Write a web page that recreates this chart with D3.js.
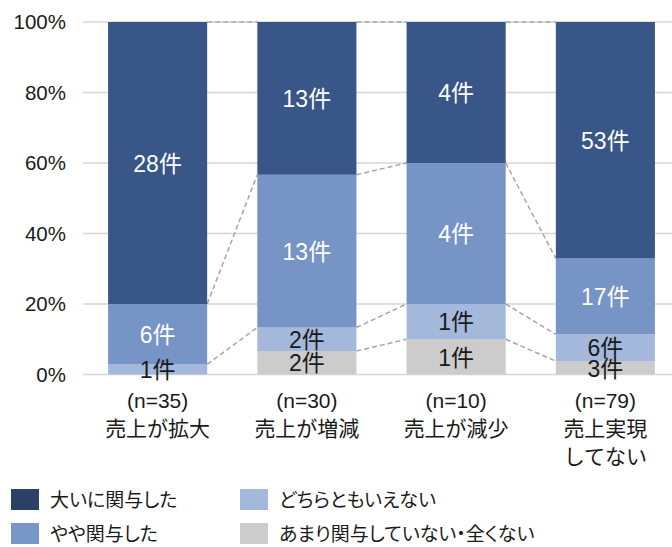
<!DOCTYPE html>
<html lang="ja">
<head>
<meta charset="utf-8">
<script src="https://cdn.jsdelivr.net/npm/d3@7"></script>
<style>
  html, body { margin: 0; padding: 0; background: #fff; }
  svg { display: block; font-family: "Liberation Sans", "Noto Sans CJK JP", sans-serif; }
  .legend text { font-feature-settings: "palt"; }
</style>
</head>
<body>
<svg id="chart" width="672" height="547"></svg>
<script>
// 売上への関与度（件数）
const categories = ["売上が拡大", "売上が増減", "売上が減少", "売上実現してない"];
const categoryLines = [
  ["売上が拡大"],
  ["売上が増減"],
  ["売上が減少"],
  ["売上実現", "してない"]
];
const seriesNames = ["あまり関与していない・全くない", "どちらともいえない", "やや関与した", "大いに関与した"];
const notInvolved  = [0, 2, 1, 3];
const neutral      = [1, 2, 1, 6];
const somewhat     = [6, 13, 4, 17];
const veryInvolved = [28, 13, 4, 53];
const yTicks = [0, 0.2, 0.4, 0.6, 0.8, 1.0];

// bottom-to-top stacking order
const seriesValues = [notInvolved, neutral, somewhat, veryInvolved];
const barColors = ["#cccccc", "#a4b8db", "#7694c6", "#385687"];
const labelColors = ["#1a1a1a", "#1a1a1a", "#ffffff", "#ffffff"];
const legendSwatch = ["#cccccc", "#a4b8db", "#7896c8", "#2b4066"];

const svg = d3.select("#chart");

const totals = categories.map((c, i) => d3.sum(seriesValues, s => s[i]));
const rows = categories.map((c, i) => {
  const r = { cat: c };
  seriesNames.forEach((name, k) => { r[name] = seriesValues[k][i] / totals[i]; });
  return r;
});
const stacked = d3.stack().keys(seriesNames)(rows);

const x = d3.scaleBand().domain(categories).range([83, 680])
  .paddingInner(0.336).paddingOuter(0.168);
const y = d3.scaleLinear().domain([0, 1]).range([374.5, 22]);

// gridlines
svg.append("g").selectAll("line").data(yTicks).join("line")
  .attr("x1", 83).attr("x2", 672)
  .attr("y1", d => y(d)).attr("y2", d => y(d))
  .attr("stroke", "#d6d6d6").attr("stroke-width", 1.5);

// y axis labels
const yAxis = d3.axisLeft(y).tickValues(yTicks).tickFormat(d3.format(".0%")).tickSize(0).tickPadding(0);
const yg = svg.append("g").attr("transform", "translate(66,0)").call(yAxis);
yg.select(".domain").remove();
yg.selectAll("text")
  .attr("font-family", "'Liberation Sans', sans-serif")
  .attr("font-size", 20.5).attr("fill", "#1a1a1a");

// series lines between neighbouring bars
const seriesLines = [];
stacked.forEach((layer, k) => {
  for (let i = 0; i < categories.length - 1; i++) {
    if (seriesValues[k][i] === 0 || seriesValues[k][i + 1] === 0) continue;
    seriesLines.push({
      x1: x(categories[i]) + x.bandwidth(), y1: y(layer[i][1]),
      x2: x(categories[i + 1]), y2: y(layer[i + 1][1])
    });
  }
});
svg.append("g").selectAll("line").data(seriesLines).join("line")
  .attr("x1", d => d.x1).attr("y1", d => d.y1)
  .attr("x2", d => d.x2).attr("y2", d => d.y2)
  .attr("stroke", "#a6a6a6").attr("stroke-width", 1.5)
  .attr("stroke-dasharray", "5,3");

// stacked bars
const layers = svg.append("g").selectAll("g").data(stacked).join("g")
  .attr("fill", (d, k) => barColors[k]);
layers.selectAll("rect").data(d => d).join("rect")
  .attr("x", d => x(d.data.cat))
  .attr("width", x.bandwidth())
  .attr("y", d => y(d[1]))
  .attr("height", d => y(d[0]) - y(d[1]));

// value labels
stacked.forEach((layer, k) => {
  svg.append("g").selectAll("text")
    .data(layer.map((d, i) => ({ d, v: seriesValues[k][i] })).filter(o => o.v > 0))
    .join("text")
    .attr("x", o => x(o.d.data.cat) + x.bandwidth() / 2)
    .attr("y", o => (y(o.d[0]) + y(o.d[1])) / 2)
    .attr("dy", "0.38em")
    .attr("text-anchor", "middle")
    .attr("font-size", 23)
    .attr("fill", labelColors[k])
    .text(o => o.v + "件");
});

// category labels
const catG = svg.append("g").selectAll("text").data(categories).join("text")
  .attr("text-anchor", "middle")
  .attr("font-size", 21)
  .attr("fill", "#1a1a1a")
  .attr("transform", d => `translate(${x(d) + x.bandwidth() / 2},0)`);
catG.each(function (d, i) {
  const t = d3.select(this);
  const lines = [`(n=${totals[i]})`].concat(categoryLines[i]);
  lines.forEach((ln, j) => {
    t.append("tspan").attr("x", 0).attr("y", 408 + j * 28).text(ln);
  });
});

// legend
const legendOrder = [3, 2, 1, 0];
const legend = svg.append("g").attr("class", "legend").selectAll("g").data(legendOrder).join("g")
  .attr("transform", (k, j) => `translate(${j < 2 ? 11 : 240},${489 + (j % 2) * 34})`);
legend.append("rect").attr("width", 28).attr("height", 21).attr("fill", k => legendSwatch[k]);
legend.append("text")
  .attr("x", 39).attr("y", 10.5).attr("dy", "0.38em")
  .attr("font-family", "'Noto Sans CJK JP', sans-serif")
  .attr("font-size", 19).attr("fill", "#1a1a1a")
  .text(k => seriesNames[k]);
</script>
</body>
</html>
